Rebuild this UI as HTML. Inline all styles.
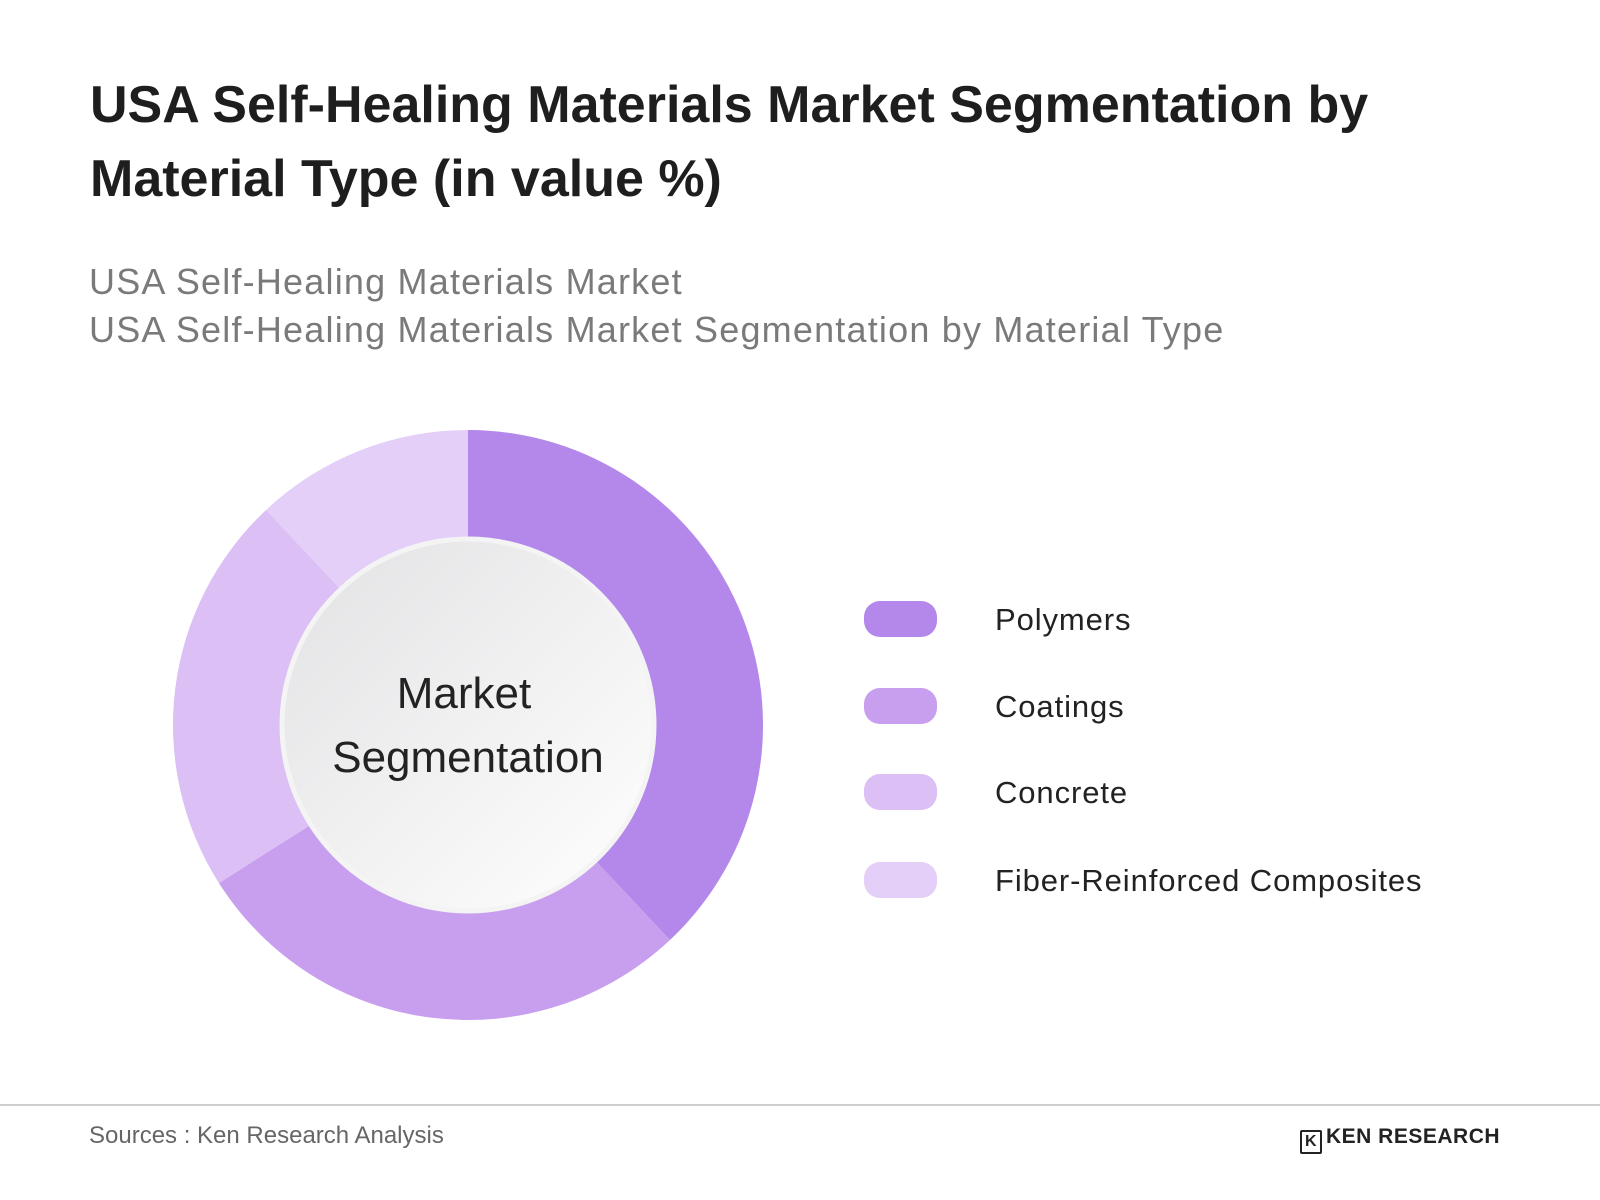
<!DOCTYPE html>
<html><head><meta charset="utf-8">
<style>
html,body{margin:0;padding:0;background:#fff;}
body{width:1600px;height:1200px;position:relative;overflow:hidden;font-family:"Liberation Sans",sans-serif;}
.t{position:absolute;white-space:nowrap;}
</style></head>
<body>
<div class="t" style="left:90px;top:68px;font-size:52px;font-weight:bold;color:#1e1e1e;line-height:74px;">USA Self-Healing Materials Market Segmentation by<br>Material Type (in value %)</div>
<div class="t" style="left:89px;top:258px;font-size:36px;color:#7a7a7a;line-height:48px;letter-spacing:1.2px;">USA Self-Healing Materials Market<br>USA Self-Healing Materials Market Segmentation by Material Type</div>

<svg id="chart" width="1600" height="1100" style="position:absolute;left:0;top:0">
<defs>
<linearGradient id="cg" x1="0" y1="0" x2="1" y2="1">
<stop offset="0" stop-color="#e2e2e4"/><stop offset="1" stop-color="#ffffff"/>
</linearGradient>
</defs>
<g id="slices"></g>
<circle cx="468" cy="725" r="186" fill="url(#cg)" stroke="#f4f4f4" stroke-width="5"/>
<text x="464" y="708" text-anchor="middle" font-size="44" fill="#222" font-family="Liberation Sans, sans-serif">Market</text>
<text x="468" y="772" text-anchor="middle" font-size="44" fill="#222" font-family="Liberation Sans, sans-serif">Segmentation</text>
<g id="legend"></g>
</svg>

<div style="position:absolute;left:0;top:1104px;width:1600px;height:2px;background:#cfcfcf;"></div>
<div class="t" style="left:89px;top:1122px;font-size:24px;color:#666;">Sources : Ken Research Analysis</div>
<div class="t" style="left:1300px;top:1125px;font-size:21px;font-weight:bold;color:#222;letter-spacing:0.5px;"><span style="display:inline-block;width:18px;height:20px;border:2px solid #222;border-radius:2px;font-size:16px;line-height:20px;text-align:center;vertical-align:-3px;margin-right:4px;">K</span>KEN RESEARCH</div>

<script>
const categories = ["Polymers","Coatings","Concrete","Fiber-Reinforced Composites"];
const shares = [38, 28, 22, 12];
const colors = ["#b388ea","#c89eee","#dbbff5","#e3cff7"];

const cx = 468, cy = 725, R = 295, r0 = 150;
const total = shares.reduce((a,b)=>a+b,0);
function angle(v){ return v / total * 2 * Math.PI; }
function pt(a, rad){ return [cx + rad*Math.sin(a), cy - rad*Math.cos(a)]; }
const NS = "http://www.w3.org/2000/svg";
const gS = document.getElementById("slices");
let acc = 0;
shares.forEach((v,i)=>{
  const a0 = angle(acc), a1 = angle(acc+v); acc += v;
  const [x0,y0]=pt(a0,R),[x1,y1]=pt(a1,R),[x2,y2]=pt(a1,r0),[x3,y3]=pt(a0,r0);
  const large = (a1-a0) > Math.PI ? 1 : 0;
  const p = document.createElementNS(NS,"path");
  p.setAttribute("d",`M${x0},${y0} A${R},${R} 0 ${large} 1 ${x1},${y1} L${x2},${y2} A${r0},${r0} 0 ${large} 0 ${x3},${y3} Z`);
  p.setAttribute("fill",colors[i]);
  
  
  gS.appendChild(p);
});

const gL = document.getElementById("legend");
const legendY = [619, 706, 792, 880];
categories.forEach((c,i)=>{
  const y = legendY[i];
  const rc = document.createElementNS(NS,"rect");
  rc.setAttribute("x",864); rc.setAttribute("y",y-18); rc.setAttribute("width",73); rc.setAttribute("height",36);
  rc.setAttribute("rx",16); rc.setAttribute("fill",colors[i]);
  
  
  gL.appendChild(rc);
  const t = document.createElementNS(NS,"text");
  t.setAttribute("x",995); t.setAttribute("y",y+11);
  t.setAttribute("font-size",31); t.setAttribute("fill","#222");
  t.setAttribute("letter-spacing","0.9");
  t.setAttribute("font-family","Liberation Sans, sans-serif");
  t.textContent = c;
  
  
  gL.appendChild(t);
});
</script>
</body></html>
